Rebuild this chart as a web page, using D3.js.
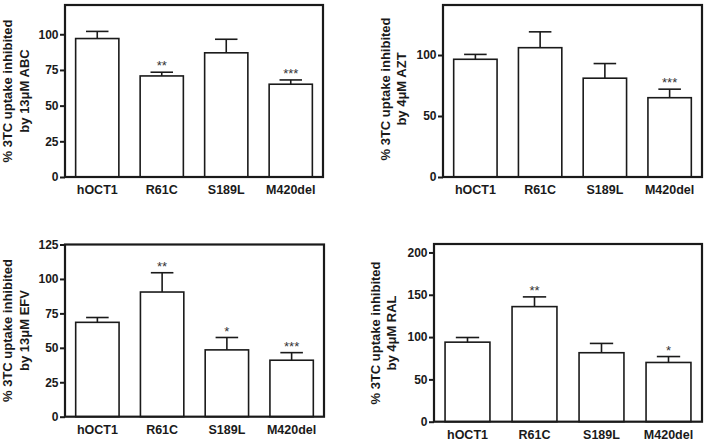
<!DOCTYPE html>
<html>
<head>
<meta charset="utf-8">
<script src="https://cdn.jsdelivr.net/npm/d3@7"></script>
<style>
  html, body { margin: 0; padding: 0; background: #fff; }
  svg { display: block; }
  text { font-family: "Liberation Sans", Arial, sans-serif; }
</style>
</head>
<body>
<svg id="chart" width="708" height="443"></svg>
<script>
// ---- Data ----
const categories = ["hOCT1", "R61C", "S189L", "M420del"];

const abcMean = [97, 70.8, 87, 65];
const abcSem  = [5, 2.6, 9.5, 3];
const abcSig  = ["", "**", "", "***"];
const abcLabel = ["% 3TC uptake inhibited", "by 13\u03bcM ABC"];
const abcTicks = [0, 25, 50, 75, 100];

const aztMean = [96.5, 106, 81, 65];
const aztSem  = [4, 13, 12, 7];
const aztSig  = ["", "", "", "***"];
const aztLabel = ["% 3TC uptake inhibited", "by 4\u03bcM AZT"];
const aztTicks = [0, 50, 100];

const efvMean = [68.5, 90.5, 48.5, 41];
const efvSem  = [3.5, 14, 9, 5.5];
const efvSig  = ["", "**", "*", "***"];
const efvLabel = ["% 3TC uptake inhibited", "by 13\u03bcM EFV"];
const efvTicks = [0, 25, 50, 75, 100, 125];

const ralMean = [94, 136, 81.5, 70];
const ralSem  = [5.5, 11.5, 11, 7];
const ralSig  = ["", "**", "", "*"];
const ralLabel = ["% 3TC uptake inhibited", "by 4\u03bcM RAL"];
const ralTicks = [0, 50, 100, 150, 200];

// ---- Layout (positions only) ----
const panels = [
  { mean: abcMean, sem: abcSem, sig: abcSig, label: abcLabel, ticks: abcTicks, yMax: 120.5,
    x0: 65, x1: 323, y0: 5, y1: 177, lab1: 12, lab2: 28.5, labY: 91 },
  { mean: aztMean, sem: aztSem, sig: aztSig, label: aztLabel, ticks: aztTicks, yMax: 141,
    x0: 443, x1: 702, y0: 5, y1: 177, lab1: 390, lab2: 405.5, labY: 89 },
  { mean: efvMean, sem: efvSem, sig: efvSig, label: efvLabel, ticks: efvTicks, yMax: 125,
    x0: 65, x1: 324, y0: 244.5, y1: 416.7, lab1: 12, lab2: 28.5, labY: 330.5 },
  { mean: ralMean, sem: ralSem, sig: ralSig, label: ralLabel, ticks: ralTicks, yMax: 210,
    x0: 434, x1: 702, y0: 244, y1: 421.7, lab1: 380, lab2: 395.5, labY: 333 }
];

const svg = d3.select("#chart");
const ink = "#1a1a1a";

panels.forEach(p => {
  const g = svg.append("g");
  const x = d3.scaleBand().domain(categories).range([p.x0, p.x1])
    .paddingInner(0.33).paddingOuter(0.165);
  const y = d3.scaleLinear().domain([0, p.yMax]).range([p.y1, p.y0]);
  const rows = categories.map((c, i) => ({ c, m: p.mean[i], s: p.sem[i], sig: p.sig[i] }));

  // error bars (upper only)
  const cw = x.bandwidth() * 0.52;
  g.selectAll(".err").data(rows).join("line")
    .attr("x1", d => x(d.c) + x.bandwidth() / 2).attr("x2", d => x(d.c) + x.bandwidth() / 2)
    .attr("y1", d => y(d.m)).attr("y2", d => y(d.m + d.s))
    .attr("stroke", ink).attr("stroke-width", 1.6);
  g.selectAll(".cap").data(rows).join("line")
    .attr("x1", d => x(d.c) + x.bandwidth() / 2 - cw / 2)
    .attr("x2", d => x(d.c) + x.bandwidth() / 2 + cw / 2)
    .attr("y1", d => y(d.m + d.s)).attr("y2", d => y(d.m + d.s))
    .attr("stroke", ink).attr("stroke-width", 1.6);

  // bars
  g.selectAll(".bar").data(rows).join("rect")
    .attr("x", d => x(d.c)).attr("width", x.bandwidth())
    .attr("y", d => y(d.m)).attr("height", d => y(0) - y(d.m))
    .attr("fill", "#fff").attr("stroke", ink).attr("stroke-width", 1.6);

  // significance stars
  g.selectAll(".sig").data(rows).join("text")
    .attr("x", d => x(d.c) + x.bandwidth() / 2)
    .attr("y", d => y(d.m + d.s) - 1.8)
    .attr("text-anchor", "middle")
    .attr("font-size", 13).attr("fill", "#333")
    .text(d => d.sig);

  // frame
  g.append("rect")
    .attr("x", p.x0).attr("y", p.y0)
    .attr("width", p.x1 - p.x0).attr("height", p.y1 - p.y0)
    .attr("fill", "none").attr("stroke", ink).attr("stroke-width", 2.2);

  // y axis
  const ya = g.append("g").attr("transform", `translate(${p.x0},0)`)
    .call(d3.axisLeft(y).tickValues(p.ticks).tickSize(5).tickPadding(1.5));
  ya.select(".domain").remove();
  ya.selectAll("line").attr("stroke", ink).attr("stroke-width", 2);
  ya.selectAll("text").attr("font-size", 12).attr("font-weight", "bold")
    .attr("fill", ink).attr("font-family", "'Liberation Sans', Arial, sans-serif");

  // x axis
  const xa = g.append("g").attr("transform", `translate(0,${p.y1})`)
    .call(d3.axisBottom(x).tickSize(0).tickPadding(8.5));
  xa.select(".domain").remove();
  xa.selectAll("text").attr("font-size", 12.5).attr("font-weight", "bold")
    .attr("fill", ink).attr("font-family", "'Liberation Sans', Arial, sans-serif");

  // y label (two lines)
  [p.lab1, p.lab2].forEach((lx, i) => {
    g.append("text")
      .attr("transform", `translate(${lx},${p.labY}) rotate(-90)`)
      .attr("text-anchor", "middle")
      .attr("font-size", 13).attr("font-weight", "bold").attr("fill", ink)
      .text(p.label[i]);
  });
});
</script>
</body>
</html>
